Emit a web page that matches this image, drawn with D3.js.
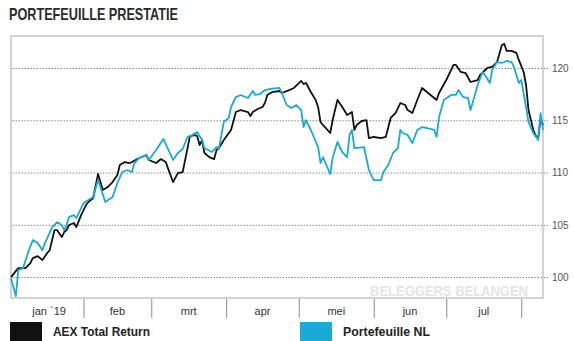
<!DOCTYPE html>
<html>
<head>
<meta charset="utf-8">
<script src="https://cdn.jsdelivr.net/npm/d3@7/dist/d3.min.js"></script>
<style>
  html, body { margin: 0; padding: 0; background: #fff; }
  svg { display: block; }
</style>
</head>
<body>
<svg id="chart" width="573" height="341"></svg>
<script>
// Index levels (start = 100) for the benchmark and the portfolio, 2019
const aexDates = ["2019-01-02","2019-01-05","2019-01-08","2019-01-10","2019-01-11","2019-01-13","2019-01-15","2019-01-17","2019-01-18","2019-01-19","2019-01-20","2019-01-21","2019-01-23","2019-01-24","2019-01-25","2019-01-26","2019-01-28","2019-01-29","2019-01-31","2019-02-02","2019-02-03","2019-02-05","2019-02-07","2019-02-09","2019-02-11","2019-02-13","2019-02-15","2019-02-16","2019-02-18","2019-02-20","2019-02-21","2019-02-24","2019-02-27","2019-02-28","2019-03-03","2019-03-05","2019-03-07","2019-03-10","2019-03-12","2019-03-14","2019-03-16","2019-03-17","2019-03-19","2019-03-20","2019-03-21","2019-03-22","2019-03-23","2019-03-25","2019-03-27","2019-03-28","2019-03-29","2019-03-31","2019-04-03","2019-04-05","2019-04-07","2019-04-10","2019-04-11","2019-04-12","2019-04-14","2019-04-16","2019-04-17","2019-04-18","2019-04-20","2019-04-23","2019-04-24","2019-04-27","2019-04-29","2019-05-02","2019-05-03","2019-05-04","2019-05-06","2019-05-08","2019-05-09","2019-05-10","2019-05-11","2019-05-14","2019-05-15","2019-05-17","2019-05-19","2019-05-21","2019-05-23","2019-05-24","2019-05-25","2019-05-27","2019-05-29","2019-05-30","2019-06-01","2019-06-04","2019-06-06","2019-06-08","2019-06-10","2019-06-12","2019-06-14","2019-06-15","2019-06-17","2019-06-19","2019-06-21","2019-06-23","2019-06-26","2019-06-27","2019-06-28","2019-07-01","2019-07-04","2019-07-05","2019-07-07","2019-07-09","2019-07-11","2019-07-14","2019-07-15","2019-07-18","2019-07-20","2019-07-22","2019-07-24","2019-07-25","2019-07-26","2019-07-28","2019-07-30","2019-07-31","2019-08-02","2019-08-03","2019-08-04","2019-08-05","2019-08-06","2019-08-07","2019-08-08","2019-08-09","2019-08-10"];
const aexValues = [100.0,100.86,100.86,101.34,101.82,102.01,101.63,102.30,102.58,103.54,104.50,104.50,103.83,104.31,104.50,104.98,105.17,104.78,105.93,106.89,107.18,107.56,109.86,108.33,108.61,109.09,109.76,110.72,111.00,110.91,111.00,111.39,111.67,111.20,110.91,111.29,111.00,109.09,109.95,110.05,112.34,113.49,113.59,113.49,112.63,113.11,111.87,111.48,111.29,112.15,112.34,113.11,114.07,115.79,115.98,115.79,115.41,115.79,116.08,116.27,116.65,117.42,117.70,117.80,117.61,117.89,118.09,118.76,118.47,118.56,117.70,116.94,116.27,114.83,114.55,113.78,115.02,116.94,116.27,115.50,115.79,114.07,114.55,114.93,115.02,113.30,113.40,113.30,113.40,115.22,115.69,116.65,116.46,115.98,115.69,116.94,118.09,117.70,117.13,116.94,117.61,118.85,120.29,120.29,119.62,119.52,118.66,118.85,119.33,120.0,120.10,120.57,122.20,122.30,121.63,121.63,121.44,120.77,119.62,118.37,115.98,115.02,114.07,113.49,113.30,115.22,114.55];

const portDates = ["2019-01-02","2019-01-04","2019-01-05","2019-01-07","2019-01-09","2019-01-11","2019-01-13","2019-01-15","2019-01-16","2019-01-17","2019-01-19","2019-01-20","2019-01-21","2019-01-23","2019-01-24","2019-01-25","2019-01-26","2019-01-28","2019-01-29","2019-02-01","2019-02-03","2019-02-05","2019-02-07","2019-02-10","2019-02-13","2019-02-15","2019-02-17","2019-02-19","2019-02-21","2019-02-22","2019-02-24","2019-02-27","2019-02-28","2019-03-03","2019-03-06","2019-03-10","2019-03-12","2019-03-14","2019-03-16","2019-03-18","2019-03-20","2019-03-22","2019-03-23","2019-03-26","2019-03-28","2019-03-29","2019-03-31","2019-04-02","2019-04-03","2019-04-05","2019-04-07","2019-04-10","2019-04-12","2019-04-13","2019-04-15","2019-04-17","2019-04-19","2019-04-23","2019-04-24","2019-04-26","2019-04-28","2019-04-30","2019-05-02","2019-05-03","2019-05-04","2019-05-06","2019-05-09","2019-05-10","2019-05-11","2019-05-14","2019-05-15","2019-05-17","2019-05-19","2019-05-21","2019-05-22","2019-05-23","2019-05-24","2019-05-28","2019-05-30","2019-06-01","2019-06-04","2019-06-05","2019-06-07","2019-06-09","2019-06-11","2019-06-12","2019-06-13","2019-06-15","2019-06-17","2019-06-19","2019-06-21","2019-06-23","2019-06-26","2019-06-27","2019-06-28","2019-06-30","2019-07-03","2019-07-05","2019-07-06","2019-07-08","2019-07-10","2019-07-11","2019-07-12","2019-07-14","2019-07-16","2019-07-17","2019-07-19","2019-07-20","2019-07-22","2019-07-24","2019-07-26","2019-07-28","2019-07-29","2019-07-31","2019-08-01","2019-08-03","2019-08-04","2019-08-06","2019-08-08","2019-08-09","2019-08-10"];
const portValues = [99.90,98.18,100.67,100.86,102.30,103.54,103.25,102.58,103.25,103.73,104.78,104.98,105.26,104.98,104.50,104.98,105.74,105.93,105.65,107.08,107.37,107.66,109.28,107.18,107.66,109.00,110.05,110.24,110.05,110.91,111.39,111.67,111.20,112.15,113.21,111.20,111.87,112.25,113.40,113.59,113.88,113.11,112.34,111.96,112.44,112.34,114.83,115.22,116.27,117.22,117.42,117.13,117.80,117.42,117.51,117.89,117.99,118.09,117.61,116.46,116.17,116.46,115.98,114.35,115.02,114.07,112.44,110.91,111.48,109.86,111.39,112.92,111.96,111.48,113.59,114.07,112.34,112.44,110.24,109.28,109.28,110.05,110.72,111.87,112.34,114.07,113.78,113.59,112.82,114.07,114.35,114.26,114.07,113.40,115.31,116.94,117.42,117.42,117.89,117.22,117.13,115.98,116.75,118.37,119.62,119.33,118.56,119.81,120.57,120.48,120.67,120.57,120.10,118.56,118.85,116.27,114.83,113.78,113.11,115.69,114.07];

const yTicks = [100, 105, 110, 115, 120];
const monthStarts = ["2019-02-01","2019-03-01","2019-04-01","2019-05-01","2019-06-01","2019-07-01","2019-08-01"];
const monthLabels = ["jan `19","feb","mrt","apr","mei","jun","jul"];
const seriesNames = ["AEX Total Return","Portefeuille NL"];
const seriesColors = ["#111111","#1ba9d6"];

const parse = d3.timeParse("%Y-%m-%d");
const aex = aexDates.map((d, i) => ({ date: parse(d), value: aexValues[i] }));
const port = portDates.map((d, i) => ({ date: parse(d), value: portValues[i] }));

const svg = d3.select("#chart");
const box = { left: 11, right: 543, top: 36, bottom: 298 };

const x = d3.scaleTime()
  .domain([parse("2019-01-02"), parse("2019-08-10")])
  .range([box.left, box.right]);
const y = d3.scaleLinear()
  .domain([98.0, 123.06])
  .range([box.bottom, box.top]);

// Title
svg.append("text")
  .attr("x", 9).attr("y", 20)
  .attr("font-family", "'Liberation Sans Narrow', 'Arial Narrow', 'Liberation Sans', sans-serif")
  .attr("font-weight", "bold")
  .attr("font-size", 16.5)
  .attr("fill", "#2b2b2b")
  .attr("textLength", 169)
  .attr("lengthAdjust", "spacingAndGlyphs")
  .text("PORTEFEUILLE PRESTATIE");

// Watermark
svg.append("text")
  .attr("x", 370).attr("y", 296)
  .attr("font-family", "'Liberation Sans', Arial, sans-serif")
  .attr("font-weight", "bold")
  .attr("font-size", 14.5)
  .attr("fill", "#e4e4e4")
  .attr("textLength", 158)
  .attr("lengthAdjust", "spacingAndGlyphs")
  .text("BELEGGERS BELANGEN");

// Dotted horizontal gridlines with right-hand labels
const yAxis = d3.axisRight(y)
  .tickValues(yTicks)
  .tickSize(-(548 - box.left))
  .tickPadding(4)
  .tickFormat(d3.format("d"));
const gy = svg.append("g")
  .attr("transform", `translate(548,0)`)
  .call(yAxis);
gy.select(".domain").remove();
gy.selectAll(".tick line")
  .attr("stroke", "#8a8a8a")
  .attr("stroke-width", 1)
  .attr("stroke-dasharray", "1.5,1.5");
gy.selectAll(".tick text")
  .attr("font-family", "'Liberation Sans', Arial, sans-serif")
  .attr("font-size", 10)
  .attr("fill", "#555");

// Frame
svg.append("rect")
  .attr("x", box.left).attr("y", box.top)
  .attr("width", box.right - box.left)
  .attr("height", box.bottom - box.top)
  .attr("fill", "none")
  .attr("stroke", "#c9c9c9")
  .attr("stroke-width", 1.6);

// Month separators below the frame
const xAxis = d3.axisBottom(x)
  .tickValues(monthStarts.map(parse))
  .tickSize(19)
  .tickFormat("");
const gx = svg.append("g")
  .attr("transform", `translate(0,${box.bottom + 1})`)
  .call(xAxis);
gx.select(".domain").remove();
gx.selectAll(".tick line").attr("stroke", "#8c8c8c").attr("stroke-width", 1);

// Month labels centred between separators
const labelCentres = [parse("2019-01-02")].concat(monthStarts.map(parse));
svg.append("g").selectAll("text")
  .data(monthLabels)
  .join("text")
  .attr("x", (d, i) => {
    const a = i === 0 ? x(parse("2019-01-01")) : x(labelCentres[i]);
    const b = x(parse(monthStarts[i]));
    return (a + b) / 2 + (i === 0 ? 3 : 0);
  })
  .attr("y", 315)
  .attr("text-anchor", "middle")
  .attr("font-family", "'Liberation Sans', Arial, sans-serif")
  .attr("font-size", 11)
  .attr("fill", "#333")
  .text(d => d);

// Lines
const line = d3.line()
  .x(d => x(d.date))
  .y(d => y(d.value));
svg.append("path")
  .datum(aex)
  .attr("d", line)
  .attr("fill", "none")
  .attr("stroke", seriesColors[0])
  .attr("stroke-width", 1.8)
  .attr("stroke-linejoin", "round");
svg.append("path")
  .datum(port)
  .attr("d", line)
  .attr("fill", "none")
  .attr("stroke", seriesColors[1])
  .attr("stroke-width", 1.8)
  .attr("stroke-linejoin", "round");

// Legend
const legendX = [10, 300];
const legendTextLen = [97, 87];
const lg = svg.append("g");
seriesNames.forEach((name, i) => {
  lg.append("rect")
    .attr("x", legendX[i]).attr("y", 322)
    .attr("width", 32).attr("height", 19)
    .attr("fill", seriesColors[i]);
  lg.append("text")
    .attr("x", legendX[i] + 43).attr("y", 335.5)
    .attr("font-family", "'Liberation Sans Narrow', 'Arial Narrow', 'Liberation Sans', sans-serif")
    .attr("font-weight", "bold")
    .attr("font-size", 12)
    .attr("fill", "#222")
    .attr("textLength", legendTextLen[i])
    .attr("lengthAdjust", "spacingAndGlyphs")
    .text(name);
});
</script>
</body>
</html>
